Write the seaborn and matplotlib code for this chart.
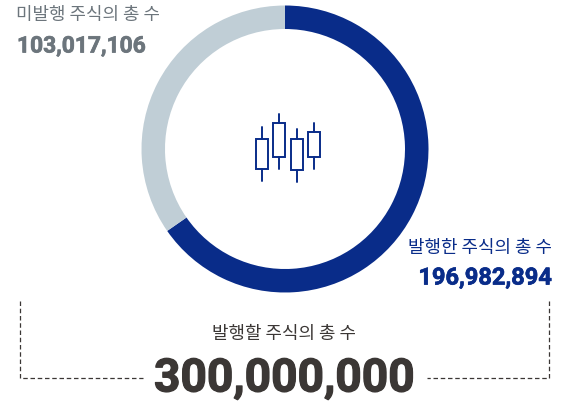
import matplotlib
matplotlib.use('Agg')
import matplotlib.pyplot as plt
import matplotlib.patheffects as pe
import seaborn as sns
import pandas as pd

# Share counts
issued = 196982894
unissued = 103017106
authorized = 300000000

# Arc shares (drawn slightly off the counts)
arc_shares = [65.33, 34.67]

issued_label = '발행한 주식의 총 수'
unissued_label = '미발행 주식의 총 수'
authorized_label = '발행할 주식의 총 수'

# Candlestick icon, in picture pixels
candle_x = [261.7, 279.0, 296.7, 314.3]
candle_top = [138.7, 123.3, 138.7, 132.3]
candle_bottom = [169.0, 157.0, 170.3, 157.0]
wick_top = [126.7, 114.3, 129.3, 123.3]
wick_bottom = [180.7, 168.7, 182.3, 168.7]

# Dashed bracket, in picture pixels
bracket_left_x = [20, 20, 143]
bracket_left_y = [301, 378, 378]
bracket_right_x = [549, 549, 427]
bracket_right_y = [301, 378, 378]

navy = '#092c89'
light = '#c0ced6'
gray = '#6c757c'
dark = '#3b3735'

sns.set_style('white')
plt.rcParams['font.family'] = ['Noto Sans CJK KR', 'DejaVu Sans']

W, H = 576, 404
fig = plt.figure(figsize=(W / 100, H / 100), dpi=100)

# Donut
cx, cy, r = 285, 149, 143.5
ax_pie = fig.add_axes([(cx - r) / W, 1 - (cy + r) / H, 2 * r / W, 2 * r / H])
ax_pie.pie(arc_shares, colors=[navy, light], startangle=90, counterclock=False,
           radius=1, wedgeprops={'width': 23.5 / r, 'linewidth': 0})
ax_pie.set_xlim(-1, 1)
ax_pie.set_ylim(-1, 1)

# Overlay in pixel coordinates
ax = fig.add_axes([0, 0, 1, 1])
ax.set_xlim(0, W)
ax.set_ylim(H, 0)
ax.axis('off')
ax.patch.set_alpha(0)

# Bracket lines
for xs, ys in [(bracket_left_x, bracket_left_y), (bracket_right_x, bracket_right_y)]:
    df = pd.DataFrame({'x': xs, 'y': ys})
    sns.lineplot(data=df, x='x', y='y', sort=False, estimator=None, color=dark,
                 lw=0.9, linestyle=(0, (3.6, 2.2)), ax=ax)
ax.set_xlim(0, W)
ax.set_ylim(H, 0)

# Candles
for x, t, b, wt, wb in zip(candle_x, candle_top, candle_bottom, wick_top, wick_bottom):
    ax.plot([x, x], [wt, t], color=navy, lw=1.4)
    ax.plot([x, x], [b, wb], color=navy, lw=1.4)
    ax.add_patch(plt.Rectangle((x - 6, t), 12, b - t, fill=False, ec=navy, lw=1.4))

# Labels
def bold_num(x, y, value, size, color, ha, stroke):
    t = ax.text(x, y, f'{value:,}', fontsize=size, color=color, ha=ha, va='center',
                family='Roboto', fontweight='bold')
    t.set_path_effects([pe.withStroke(linewidth=stroke, foreground=color)])

ax.text(16.5, 15, unissued_label, fontsize=12.9, color=gray, ha='left', va='center')
bold_num(17, 46, unissued, 16.4, gray, 'left', 0.5)
ax.text(552, 248, issued_label, fontsize=12.9, color=navy, ha='right', va='center')
bold_num(552, 278, issued, 17.0, navy, 'right', 0.5)
ax.text(284.5, 334, authorized_label, fontsize=12.9, color=dark, ha='center', va='center')
bold_num(284, 378.5, authorized, 33.2, dark, 'center', 0.9)

fig.savefig('out.png', dpi=100)
